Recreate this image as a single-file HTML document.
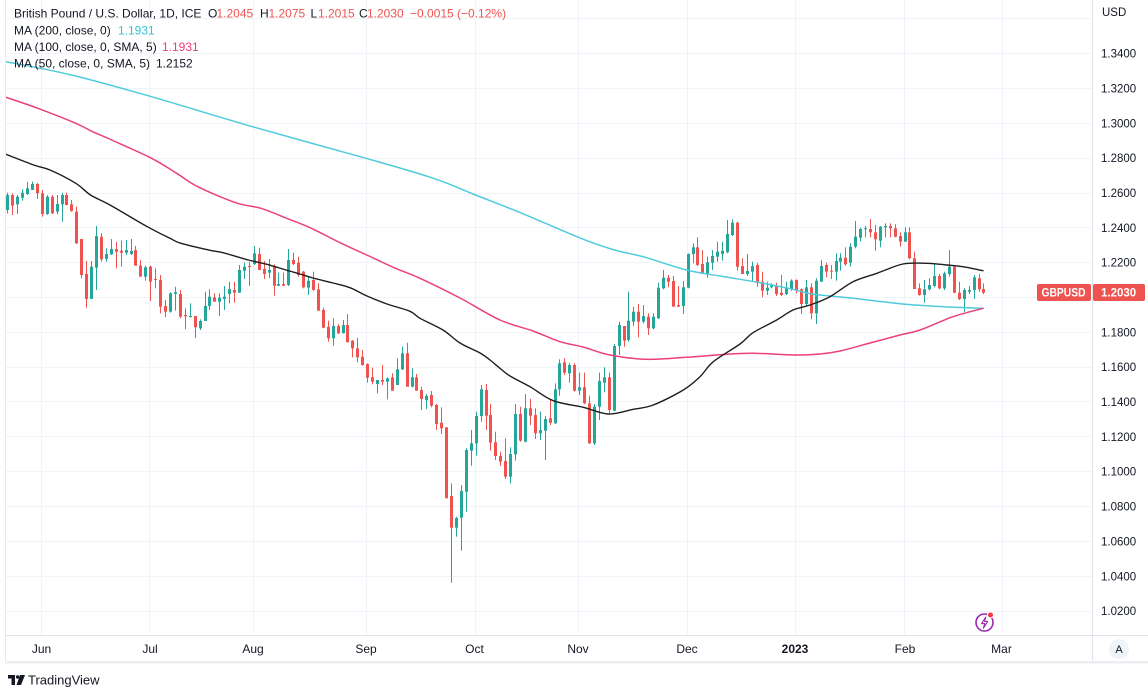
<!DOCTYPE html>
<html><head><meta charset="utf-8"><style>
html,body{margin:0;padding:0;background:#fff;}
svg{display:block;font-family:"Liberation Sans",Arial,sans-serif;}
</style></head><body>
<svg id="s" width="1148" height="694" viewBox="0 0 1148 694" xmlns="http://www.w3.org/2000/svg">
<defs><clipPath id="pc"><rect x="6" y="0" width="1086" height="635"/></clipPath></defs>
<rect width="1148" height="694" fill="#fff"/>
<g stroke="#f0f3fa" stroke-width="1">
<line x1="6" x2="1092" y1="18.5" y2="18.5"/><line x1="6" x2="1092" y1="53.5" y2="53.5"/><line x1="6" x2="1092" y1="88.5" y2="88.5"/><line x1="6" x2="1092" y1="123.5" y2="123.5"/><line x1="6" x2="1092" y1="158.5" y2="158.5"/><line x1="6" x2="1092" y1="193.5" y2="193.5"/><line x1="6" x2="1092" y1="227.5" y2="227.5"/><line x1="6" x2="1092" y1="262.5" y2="262.5"/><line x1="6" x2="1092" y1="297.5" y2="297.5"/><line x1="6" x2="1092" y1="332.5" y2="332.5"/><line x1="6" x2="1092" y1="367.5" y2="367.5"/><line x1="6" x2="1092" y1="401.5" y2="401.5"/><line x1="6" x2="1092" y1="436.5" y2="436.5"/><line x1="6" x2="1092" y1="471.5" y2="471.5"/><line x1="6" x2="1092" y1="506.5" y2="506.5"/><line x1="6" x2="1092" y1="541.5" y2="541.5"/><line x1="6" x2="1092" y1="576.5" y2="576.5"/><line x1="6" x2="1092" y1="611.5" y2="611.5"/>
<line y1="0" y2="635" x1="41.5" x2="41.5"/><line y1="0" y2="635" x1="149.5" x2="149.5"/><line y1="0" y2="635" x1="253.5" x2="253.5"/><line y1="0" y2="635" x1="366.5" x2="366.5"/><line y1="0" y2="635" x1="475.5" x2="475.5"/><line y1="0" y2="635" x1="578.5" x2="578.5"/><line y1="0" y2="635" x1="687.5" x2="687.5"/><line y1="0" y2="635" x1="795.5" x2="795.5"/><line y1="0" y2="635" x1="904.5" x2="904.5"/><line y1="0" y2="635" x1="1002.5" x2="1002.5"/>
</g>
<g id="candles" clip-path="url(#pc)"></g>
<g id="mas" clip-path="url(#pc)" fill="none" stroke-linejoin="round" stroke-linecap="round">
<polyline class="ma" stroke="#4fcbdd" stroke-width="1.5" points="6,61.7 71.5,75 151.5,96.7 252.5,126.7 366,158.3 433.5,178.3 475.6,195 521.9,213.3 580.8,238.3 614.5,250 643,256.7 686.7,270 720,276 760,282.7 793,289.3 812,294 853,298.3 903,304 943,306.7 983,308.3"/>
<polyline class="ma" stroke="#ec407a" stroke-width="1.5" points="6,97.3 37.9,108.3 75.8,123.3 92.6,131.7 111.7,140 151.5,158.3 176.7,173.3 197.8,186.7 235.7,202.7 261,208.3 286.7,218.3 311.4,228.3 340,242.7 366.7,255 395.6,268.3 420,278.3 460,298 500,320 533,331 560,341.7 583,347 610,355 646.7,359.3 686.7,357.3 723,354.5 753,353.3 797,355 820,354 840,351 870,343 900,335 920,330 953,316.7 983,308.3"/>
<polyline class="ma" stroke="#1e1e1e" stroke-width="1.4" points="6,154.3 33.7,165 50,170 75.8,183.3 90.5,195 110,205 147.3,226.7 170,238.3 181,243.3 210,250.3 223,252.7 248.3,260 267,264.3 286,270 300,274 313,278 333,283 350,287.7 367,296 387,304 410,311.3 420,318.3 443,330 460,343 480,353 490,360 500,368.3 510,376 530,386.7 553.3,400.7 583.3,407.3 608.3,414 633.3,409.3 653.3,405 683.3,390 700,376.7 713.3,361.7 740,344 753,332.7 776.7,320 793,310 810,305 830,296.7 853,281.7 877,273.3 903,264 927,263.3 947,265 963,266.7 983,270.7"/>
</g>
<!-- header -->
<g font-size="12" fill="#131722">
<text x="14" y="17.5">British Pound / U.S. Dollar, 1D, ICE</text>
<text x="208" y="17.5">O</text><text x="216.5" y="17.5" fill="#ef5350">1.2045</text>
<text x="260" y="17.5">H</text><text x="268.5" y="17.5" fill="#ef5350">1.2075</text>
<text x="310.5" y="17.5">L</text><text x="318" y="17.5" fill="#ef5350">1.2015</text>
<text x="359" y="17.5">C</text><text x="367" y="17.5" fill="#ef5350">1.2030</text>
<text x="410" y="17.5" fill="#ef5350">−0.0015 (−0.12%)</text>
<text x="14" y="34.5">MA (200, close, 0)</text><text x="118" y="34.5" fill="#2ec4d6">1.1931</text>
<text x="14" y="51">MA (100, close, 0, SMA, 5)</text><text x="162" y="51" fill="#ec407a">1.1931</text>
<text x="14" y="67.5">MA (50, close, 0, SMA, 5)</text><text x="156" y="67.5">1.2152</text>
</g>
<!-- borders -->
<line x1="5.5" x2="5.5" y1="0" y2="662" stroke="#e6e8ee"/>
<line x1="1092.5" x2="1092.5" y1="0" y2="662" stroke="#e0e3eb"/>
<line x1="6" x2="1148" y1="635.5" y2="635.5" stroke="#e0e3eb"/>
<rect x="5" y="661" width="1143" height="2.5" fill="#eceef2"/>
<!-- price axis -->
<g font-size="11.5" fill="#131722">
<text x="1102" y="16">USD</text>
<text x="1101" y="57.5">1.3400</text><text x="1101" y="92.5">1.3200</text><text x="1101" y="127.3">1.3000</text><text x="1101" y="162.2">1.2800</text><text x="1101" y="197">1.2600</text><text x="1101" y="231.8">1.2400</text><text x="1101" y="266.7">1.2200</text><text x="1101" y="336.4">1.1800</text><text x="1101" y="371.2">1.1600</text><text x="1101" y="406">1.1400</text><text x="1101" y="440.9">1.1200</text><text x="1101" y="475.7">1.1000</text><text x="1101" y="510.6">1.0800</text><text x="1101" y="545.4">1.0600</text><text x="1101" y="580.3">1.0400</text><text x="1101" y="615.1">1.0200</text>
</g>
<rect x="1037" y="284" width="54" height="17" rx="2" fill="#ef5350"/>
<text x="1041.5" y="296.5" font-size="11.5" font-weight="bold" fill="#fff" textLength="44" lengthAdjust="spacingAndGlyphs">GBPUSD</text>
<rect x="1093" y="284" width="52" height="17" rx="2" fill="#ef5350"/>
<text x="1101" y="296.5" font-size="11.5" font-weight="bold" fill="#fff">1.2030</text>
<!-- time axis -->
<g font-size="12" fill="#131722" text-anchor="middle">
<text x="41.5" y="653">Jun</text><text x="150" y="653">Jul</text><text x="253" y="653">Aug</text><text x="366" y="653">Sep</text><text x="474.5" y="653">Oct</text><text x="578" y="653">Nov</text><text x="687" y="653">Dec</text><text x="795" y="653" font-weight="bold">2023</text><text x="905" y="653">Feb</text><text x="1001.5" y="653">Mar</text>
</g>
<circle cx="1119" cy="649" r="10" fill="#f0f3fa"/>
<text x="1119" y="653" font-size="11" fill="#131722" text-anchor="middle">A</text>
<!-- lightning icon -->
<circle cx="984.5" cy="622.5" r="8.5" fill="#fff" stroke="#9c27b0" stroke-width="1.6"/>
<path d="M985.8 617 L981.6 623.6 L984.6 623.6 L983.4 628.2 L987.6 621.4 L984.6 621.4 Z" fill="none" stroke="#9c27b0" stroke-width="1.1" stroke-linejoin="round"/>
<circle cx="990.5" cy="615" r="3" fill="#f23645" stroke="#fff" stroke-width="1"/>
<!-- footer logo -->
<path d="M8 675 H15 V685 H11.5 V678.5 H8 Z" fill="#131722"/>
<circle cx="17.6" cy="677" r="1.7" fill="#131722"/>
<path d="M20 675 H25 L21 685 H16.5 Z" fill="#131722"/>
<text x="28" y="684.5" font-size="13" fill="#131722">TradingView</text>
</svg>
<script>
var D=[
[1,195,210,192.7,213.3],[0,195,205.7,193.3,215],[1,196.7,204.3,195,214],[1,192.7,197.7,189.3,200.7],[1,188.3,194,181.7,195],[1,184,190,181.7,190],[0,184,193.3,182.7,199],[0,193.3,214,190,216.7],[1,196.7,214,195,215],[0,196.7,213.3,195,214],[1,204,211.7,195,214],[1,195,204.3,192.7,221.7],[0,195,205,192.7,205.3],[0,204.3,211,200,211.7],[0,211.7,243.3,206.7,244],[0,239,275,239,278.3],[0,274,299,261,307.7],[1,266.7,299,261,299],[1,236,267.7,226,290],[0,236.7,259.3,233.3,261.7],[1,254,259,248.3,261.7],[1,249,254.3,239,255],[0,249,251.7,241.7,268.3],[0,250.7,252.7,240.7,266.7],[1,250,252.7,240,255],[1,251,254,239,255],[0,250,265.7,246,265.7],[0,265.7,276.7,260,276.7],[1,267.3,276.7,265.7,280.7],[0,266.7,281.7,265.7,301],[0,279,280,268.3,288.3],[0,280,306.7,275,313.3],[0,306,311.7,300,317.3],[1,293.3,311.7,292.3,312.7],[1,292.3,294,286.7,310.7],[0,294,316.7,290,318.3],[0,315,316.3,308.3,329.3],[1,316,317.3,303.3,316.7],[0,316,327.3,316,338.3],[1,321,328.3,319.3,330],[1,306,321,291.7,321],[1,296.7,306,289.3,310],
[0,297.3,301.7,293.3,301.7],[1,297.7,301.7,293.3,316],[1,296.7,299,286,310],[1,289,294,281.7,303.3],[0,290,292.7,281.7,302.7],[1,270,292.7,265,292.7],[1,266.7,270.7,262.7,279],[0,266,266.7,261.7,286],[1,253.3,264,246,265],[0,254,270,247.7,270],[0,269,274,261,279],[1,270,272.7,259,278.3],[0,266,285.7,264.3,295.7],[1,284,285.7,272.7,286],[0,284,285.7,272.7,286],[1,260,285,249,286],[0,260,264,252.7,265],[0,262.7,275,256.7,276.7],[0,271.7,287.3,271,288.3],[1,280.7,287.7,276,295],[0,280,290,271.7,290.7],[0,289.3,310.7,283.3,310.7],[0,310,327.7,307.7,328.3],[0,326.7,338.3,320.7,341.7],[1,326,338.3,318.3,345.7],[0,326,333.3,324,334],[1,325,333.3,320,333.3],[0,325,342.3,314,342.3],[0,340.7,348.3,340,357.3],[0,348.3,357.3,337.7,362.3],[0,356.7,365,350,365.7],[0,364,377.7,363.3,382.7],[0,377.3,381.7,367.7,384.3],[1,380,384,380,393.3],[0,380,381.7,365,385],[1,378.3,381.7,377.3,399.3],[0,377.3,390.7,373.3,390.7],[1,369.3,385,358.3,385],[1,353.3,369.3,346.7,370],[0,353.3,386.7,342.7,386.7],[1,377.3,386.7,368.3,387.3],[0,377.3,390.7,374,390.7],
[0,390,399,386.7,410],[1,396,400,394,409],[0,395,405.7,391,407.3],[0,405,424,404,430],[0,422.7,428.3,407.3,434],[0,427.3,498.3,427.3,498.3],[0,496,527.7,483.3,582.7],[1,518,527.7,516.7,536.7],[1,491,517.7,485,550.7],[1,450,491.7,448.3,511.7],[1,443.3,450.7,430,465.7],[1,416,443.3,411.7,455.7],[1,389.3,416,385,421.7],[0,390,415.7,384,430],[0,415,442.7,404,450.7],[0,442.3,456,431.7,460],[0,456,461.7,451.7,466],[0,461,476.7,438.3,479],[1,454,476.7,447.3,483.3],[1,414,454.3,404,460.7],[0,414,440.7,406.7,441.7],[1,408.3,441.7,394,442.3],[0,408.3,415.7,399,425],[0,415,433.3,408.3,439],[1,430,433.3,411.7,440],[1,419,430.7,416,460],[0,418.3,422.7,399,425],[1,389.3,423.3,383.3,424],[1,363.3,389.3,359.3,395.7],[0,362.3,372.7,358.3,375],[1,365,373.3,362.7,382.7],[0,365,390.7,363.3,391.7],[1,387.3,390.7,372.7,395],[0,387.3,403.3,372.7,404],[0,403.3,443.3,395.7,444],[1,406.7,443.3,404,445],[1,381,406.7,372.7,420],[1,377.3,382.7,367.3,392.3],[0,377.3,410,372.7,413.3],[1,346,410.7,344,411.3],[1,325,346,321.7,355],
[0,326,340.7,326,346.7],[1,320.7,340,291.7,341.7],[1,311.7,321.7,306.7,326],[0,311.7,321.7,304,337.3],[1,316,321.7,305,323.3],[0,316.7,328.3,313.3,335],[1,316.7,328.3,313.3,329.3],[1,287.7,318.3,282.7,319],[1,277.7,288.3,270,289.3],[0,277.7,281.7,275,287.3],[0,281,306.7,276,306.7],[0,305,306.7,286,306.7],[1,287.3,306,281,314],[1,254,287.7,253.3,288.3],[1,247.3,254,243.3,263.3],[0,247.3,265,237.3,266],[0,264,274,250,274],[1,262.3,274,256.7,277.7],[1,256,262.7,250,270],[1,251.7,256.7,241.7,261.7],[1,250.7,254,241.7,260.7],[1,234,252.3,220,253.3],[1,222.7,235,219.3,236],[0,222.7,266.7,221.7,270.7],[0,266,274,258.3,274],[1,271,274,254,276],[1,266,271.7,261.7,281.7],[0,265,282.7,262.7,286.7],[0,281.7,290.7,271.7,297.3],[1,287.7,290.7,281.7,295],[1,285.7,287.3,283.3,288.3],[0,286,294,282.7,296],[0,292.7,295,275,296],[1,287.7,294,281.7,295],[1,280.7,289.3,279.3,290.7],[0,280,290,279.3,293.3],[0,289.3,304,288.3,314],[1,287.3,304,280,306],[0,287.3,313.3,283.3,319.3],[1,280.7,313.3,278.3,324],
[1,266,281.7,260,281.7],[0,265,271.7,262.7,277.3],[0,270.7,271.7,265,279],[1,261,271.7,253.3,280.7],[1,257.7,261.7,253.3,270.7],[0,257.7,264.3,247.3,265.7],[1,246.7,262.7,243.3,266.7],[1,236.7,246.7,221,248.3],[1,229,237.7,227.7,241.7],[1,228.3,229.3,226,237.3],[0,229,232.3,219,237.3],[0,232.3,239.3,225,250.7],[1,226.7,240.7,226,247.3],[1,226,227.3,223.3,237.3],[0,226,228.3,223.3,237.3],[0,228.3,236.7,224.3,237.3],[0,236,241.7,232.3,246.7],[1,232.3,241.7,227.3,241.7],[0,232.3,258.3,227.3,259.3],[0,258.3,289,251.7,289],[0,288.3,295,283.3,295.7],[1,289.3,295,280,302.7],[1,285,289.3,278.3,290.7],[1,276,286,263.3,287.3],[0,276,288.3,274,289.3],[1,273.3,288.3,271.7,290],[1,266.7,274,250,276.7],[0,266.7,292.7,265,293.3],[0,292.7,299,281.7,300],[1,290,299,288.3,311.7],[1,290,291.7,286,294],[1,277.3,290,275,299],[0,278.3,289.3,274,291.7],[0,289,292.7,283.3,294]
];
(function(){
var g=document.getElementById('candles'),h='';
for(var i=0;i<D.length;i++){
var d=D[i],x=Math.round(7.3+i*4.93),col=d[0]?'#26a69a':'#ef5350';
var bt=d[1],bb=d[2];if(bb-bt<1){bb=bt+1;}
h+='<rect x="'+x+'" y="'+d[3]+'" width="1" height="'+(d[4]-d[3])+'" fill="'+col+'"/>';
h+='<rect x="'+(x-1)+'" y="'+bt+'" width="3" height="'+(bb-bt)+'" fill="'+col+'"/>';
}
g.innerHTML=h;
/* smooth MA polylines with Catmull-Rom */
var pls=document.querySelectorAll('polyline.ma'),ns='http://www.w3.org/2000/svg';
for(var k=0;k<pls.length;k++){
var pl=pls[k],pts=pl.getAttribute('points').trim().split(/\s+/).map(function(s){var a=s.split(',');return [+a[0],+a[1]];});
var dd='M'+pts[0][0]+' '+pts[0][1];
for(var j=0;j<pts.length-1;j++){
var p0=pts[j-1]||pts[j],p1=pts[j],p2=pts[j+1],p3=pts[j+2]||p2;
var c1x=p1[0]+(p2[0]-p0[0])/6,c1y=p1[1]+(p2[1]-p0[1])/6;
var c2x=p2[0]-(p3[0]-p1[0])/6,c2y=p2[1]-(p3[1]-p1[1])/6;
dd+=' C'+c1x.toFixed(2)+' '+c1y.toFixed(2)+' '+c2x.toFixed(2)+' '+c2y.toFixed(2)+' '+p2[0]+' '+p2[1];
}
var p=document.createElementNS(ns,'path');
p.setAttribute('d',dd);p.setAttribute('stroke',pl.getAttribute('stroke'));p.setAttribute('stroke-width',pl.getAttribute('stroke-width'));
pl.parentNode.replaceChild(p,pl);
}
})();
</script>
</body></html>
